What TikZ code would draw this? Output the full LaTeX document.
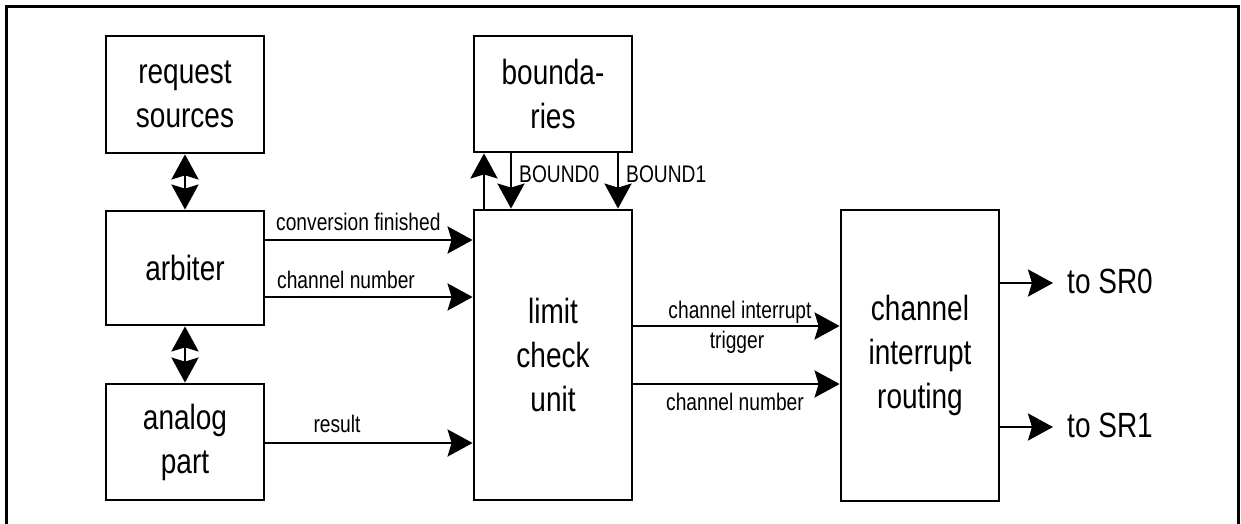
\documentclass[tikz,border=0pt]{standalone}
\usepackage{fontspec}
\setmainfont{Liberation Sans}[FakeStretch=0.8]
\usetikzlibrary{arrows.meta}
\newcommand{\bigtxt}{\fontsize{35}{44}\selectfont}
\newcommand{\smalltxt}{\fontsize{24}{30}\selectfont}
\begin{document}
\begin{tikzpicture}[x=1pt,y=-1pt,
  blk/.style={draw, line width=2.8pt, minimum width=158pt, align=center, inner sep=0pt, font=\bigtxt},
  arr/.style={line width=2.8pt, -{Stealth[length=25pt,width=27pt,inset=4pt]}},
  lbl/.style={font=\smalltxt, inner sep=0pt},
  outtxt/.style={font=\bigtxt, inner sep=0pt}]
\useasboundingbox (0,0) rectangle (1241,524);
\draw[line width=3pt] (6.5,524) -- (6.5,6.5) -- (1238.5,6.5) -- (1238.5,524);

\node[blk, minimum height=117pt] (rs) at (185,94.5) {request\\sources};
\node[blk, minimum height=114pt] (arb) at (185,268) {arbiter};
\node[blk, minimum height=116pt] (ana) at (185,442) {analog\\part};
\node[blk, minimum height=116pt] (bnd) at (553,94) {bounda-\\ries};
\node[blk, minimum height=290pt] (lcu) at (553,355) {limit\\check\\unit};
\node[blk, minimum height=291pt] (cir) at (920,355.5) {channel\\interrupt\\routing};

% double arrows
\coordinate (m1) at (185,182);
\coordinate (m2) at (185,355);
\draw[arr] (m1) -- (rs.south);
\draw[arr] (m1) -- (arb.north);
\draw[arr] (m2) -- (arb.south);
\draw[arr] (m2) -- (ana.north);

% arbiter / analog -> lcu
\coordinate (y1) at (0,240);
\coordinate (y2) at (0,297);
\coordinate (y3) at (0,443);
\draw[arr] (arb.east |- y1) -- (lcu.west |- y1);
\draw[arr] (arb.east |- y2) -- (lcu.west |- y2);
\draw[arr] (ana.east |- y3) -- (lcu.west |- y3);
\node[lbl, anchor=base west] (l1) at (276,230) {conversion finished};
\node[lbl, anchor=base west] (l2) at (277,288) {channel number};
\node[lbl, anchor=base] (l3) at (337,432) {result};

% lcu <-> boundaries
\coordinate (x1) at (484,0);
\coordinate (x2) at (511,0);
\coordinate (x3) at (618,0);
\draw[arr] (lcu.north -| x1) -- (bnd.south -| x1);
\draw[arr] (bnd.south -| x2) -- (lcu.north -| x2);
\draw[arr] (bnd.south -| x3) -- (lcu.north -| x3);
\node[lbl, anchor=base west] (b0) at (519,182) {BOUND0};
\node[lbl, anchor=base west] (b1) at (626,182) {BOUND1};

% lcu -> cir
\coordinate (y4) at (0,326);
\coordinate (y5) at (0,384);
\draw[arr] (lcu.east |- y4) -- (cir.west |- y4);
\draw[arr] (lcu.east |- y5) -- (cir.west |- y5);
\node[lbl, anchor=base] (l4) at (740,318) {channel interrupt};
\node[lbl, anchor=base] (l5) at (737,348) {trigger};
\node[lbl, anchor=base] (l6) at (735,410) {channel number};

% outputs
\coordinate (y6) at (0,283);
\coordinate (y7) at (0,427);
\coordinate (e1) at (1053,283);
\coordinate (e2) at (1053,427);
\draw[arr] (cir.east |- y6) -- (e1);
\draw[arr] (cir.east |- y7) -- (e2);
\node[outtxt, anchor=base west] (sr0) at (1067,293) {to SR0};
\node[outtxt, anchor=base west] (sr1) at (1067,437) {to SR1};
\end{tikzpicture}
\end{document}
